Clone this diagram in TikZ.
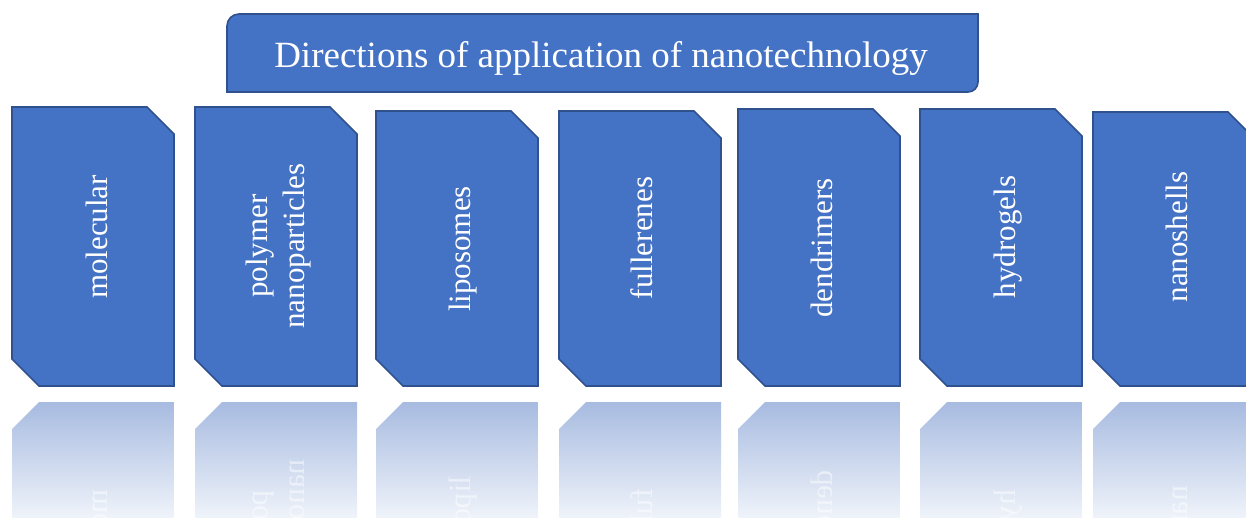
\documentclass[tikz,border=0pt]{standalone}
\usepackage{fontspec}
\setmainfont{Liberation Serif}
\usetikzlibrary{positioning}

\definecolor{cardblue}{HTML}{4472C4}
\definecolor{cardline}{HTML}{2F528F}
\definecolor{reflblue}{HTML}{A7BBE0}
\definecolor{reflend}{HTML}{EFF3FA}

\begin{document}
\begin{tikzpicture}[
      x=1pt, y=-1pt,
      card/.style={
        draw=cardline,
        fill=cardblue,
        line width=1.6pt
      },
      cardtext/.style={
        text=white,
        font=\fontsize{31}{37}\selectfont,
        rotate=90,
        anchor=base,
        inner sep=0pt
      },
      mirrortext/.style={
        yscale=-1,
        cardtext,
        text opacity=0.5
      },
      headtext/.style={
        text=white,
        font=\fontsize{37}{44}\selectfont,
        anchor=base,
        inner sep=0pt
      }
      ]
      \clip (0,0) rectangle (1246,517);

      % title frame
      \draw[card] (227,92) [rounded corners=12pt] -- (227,14) [sharp corners]
        -- (978,14) [rounded corners=10pt] -- (978,92) [sharp corners] -- cycle;
      \node[headtext] (title) at (601,67)
        {Directions of application of nanotechnology};

      % cards and their mirror images
      \foreach \l/\t in {12/107,195/107,376/111,559/111,738/109,920/109,1093/112}{
        \draw[card] (\l,\t) -- ({\l+135},\t) -- ({\l+162},{\t+27})
          -- ({\l+162},386) -- ({\l+27},386) -- (\l,359) -- cycle;
        \begin{scope}
          \clip (\l,429) -- ({\l+27},402) -- ({\l+162},402)
            -- ({\l+162},{788-\t-27}) -- ({\l+135},{788-\t}) -- (\l,{788-\t}) -- cycle;
          \shade[top color=reflblue, bottom color=reflend]
            (\l,402) rectangle ({\l+162},517);
        \end{scope}
      }

      \node[cardtext] (molecular) at (107,237) {molecular};
      \node[cardtext,anchor=center,align=center] (polymer) at (279,246)
        {polymer\\nanoparticles};
      \node[cardtext] (liposomes) at (470,249) {liposomes};
      \node[cardtext] (fullerenes) at (652,238) {fullerenes};
      \node[cardtext] (dendrimers) at (832,248) {dendrimers};
      \node[cardtext] (hydrogels) at (1015,237) {hydrogels};
      \node[cardtext] (nanoshells) at (1187,237) {nanoshells};

      \node[mirrortext] (molecular') at (107,551) {molecular};
      \node[mirrortext,anchor=center,align=center] (polymer') at (279,542)
        {polymer\\nanoparticles};
      \node[mirrortext] (liposomes') at (470,539) {liposomes};
      \node[mirrortext] (fullerenes') at (652,550) {fullerenes};
      \node[mirrortext] (dendrimers') at (832,540) {dendrimers};
      \node[mirrortext] (hydrogels') at (1015,551) {hydrogels};
      \node[mirrortext] (nanoshells') at (1187,551) {nanoshells};
    \end{tikzpicture}
\end{document}
